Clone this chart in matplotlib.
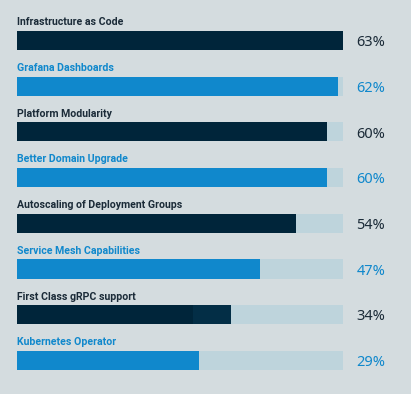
import matplotlib.pyplot as plt

# data
categories = ['Infrastructure as Code', 'Grafana Dashboards', 'Platform Modularity',
              'Better Domain Upgrade', 'Autoscaling of Deployment Groups',
              'Service Mesh Capabilities', 'First Class gRPC support', 'Kubernetes Operator']
percent = [63, 62, 60, 60, 54, 47, 34, 29]
# lengths the bars are actually drawn at (the last two are mid-animation in the picture)
bar_len = [63, 62, 60, 60, 54, 47, 34, 35.3]
grpc_extra = 41.3  # lighter navy extension on the gRPC bar
track_max = 63

BG = '#d4dcdf'
TRACK = '#bed4dc'
NAVY = '#00253a'
NAVY2 = '#032e46'
BLUE = '#1088cc'
TXT_NAVY = '#1b2b38'

fig = plt.figure(figsize=(4.11, 3.94), dpi=100, facecolor=BG)
ax = fig.add_axes([16.5 / 411, 0, 326.5 / 411, 1])
ax.set_facecolor(BG)
ax.set_xlim(0, track_max)
ax.set_ylim(7.735, -0.886)
ax.axis('off')

bar_h = 0.416
for i, (name, p, L) in enumerate(zip(categories, percent, bar_len)):
    col = NAVY if i % 2 == 0 else BLUE
    txt = TXT_NAVY if i % 2 == 0 else BLUE
    ax.barh(i, track_max, height=bar_h, color=TRACK, left=0)
    ax.barh(i, L, height=bar_h, color=col)
    if name.startswith('First Class'):
        ax.barh(i, grpc_extra - L, left=L, height=bar_h, color=NAVY2)
    ax.text(0.05, i - bar_h / 2 - 0.08, name, ha='left', va='bottom', fontsize=7.6,
            fontweight='bold', color=txt, family=['Roboto', 'DejaVu Sans'])
    ax.text(65.6, i + 0.05, f'{p}%', ha='left', va='center', fontsize=10.5,
            color=txt, family=['Noto Sans', 'DejaVu Sans'], clip_on=False)

fig.savefig('out.png', dpi=100, facecolor=BG)
